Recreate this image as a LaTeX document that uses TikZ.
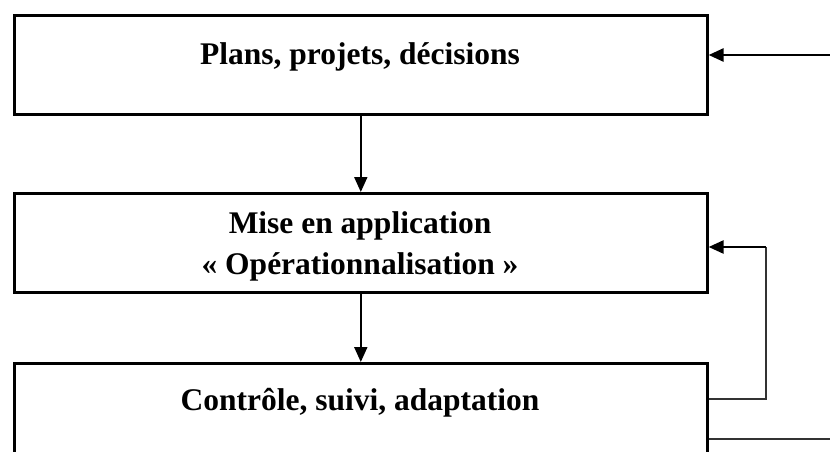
\documentclass[tikz,border=0pt]{standalone}
\usepackage{fontspec}
\setmainfont{Liberation Serif}
\usetikzlibrary{arrows.meta}
\begin{document}
\begin{tikzpicture}[x=1pt,y=-1pt,
  box/.style={draw=black, line width=2.6pt, minimum width=693pt, minimum height=99pt, inner sep=0pt, anchor=north west},
  lbl/.style={font=\fontsize{31.5}{40}\selectfont\bfseries, anchor=base, inner sep=0pt},
  arr/.style={-{Triangle[length=15pt,width=13pt]}, line width=2pt},
  thinline/.style={line width=1.4pt, draw=black!80}]
\useasboundingbox (0,0) rectangle (830,452);
\clip (0,0) rectangle (830,452);
\fill[white] (0,0) rectangle (830,452);
\node[box] (b1) at (13,14) {};
\node[box] (b2) at (13,192) {};
\node[box] (b3) at (13,362) {};
\node[lbl] (t1) at (360,64) {Plans, projets, décisions};
\node[lbl] (t2a) at (360,233) {Mise en application};
\node[lbl] (t2b) at (360,274) {«~Opérationnalisation~»};
\node[lbl] (t3) at (360,410) {Contrôle, suivi, adaptation};
\draw[arr] (b1) -- (b2);
\draw[arr] (b2) -- (b3);
\coordinate (in1) at (830,55);
\draw[arr, line width=2.6pt] (in1) -- (in1 -| b1.east);
\coordinate (fb) at (766,399);
\coordinate (fbt) at (766,247);
\draw[thinline] (fb -| b3.east) -- (fb) -- (fbt);
\draw[arr, line width=2.4pt] (fbt) -- (fbt -| b2.east);
\coordinate (out) at (830,439);
\draw[thinline] (out -| b3.east) -- (out);
\end{tikzpicture}
\end{document}
